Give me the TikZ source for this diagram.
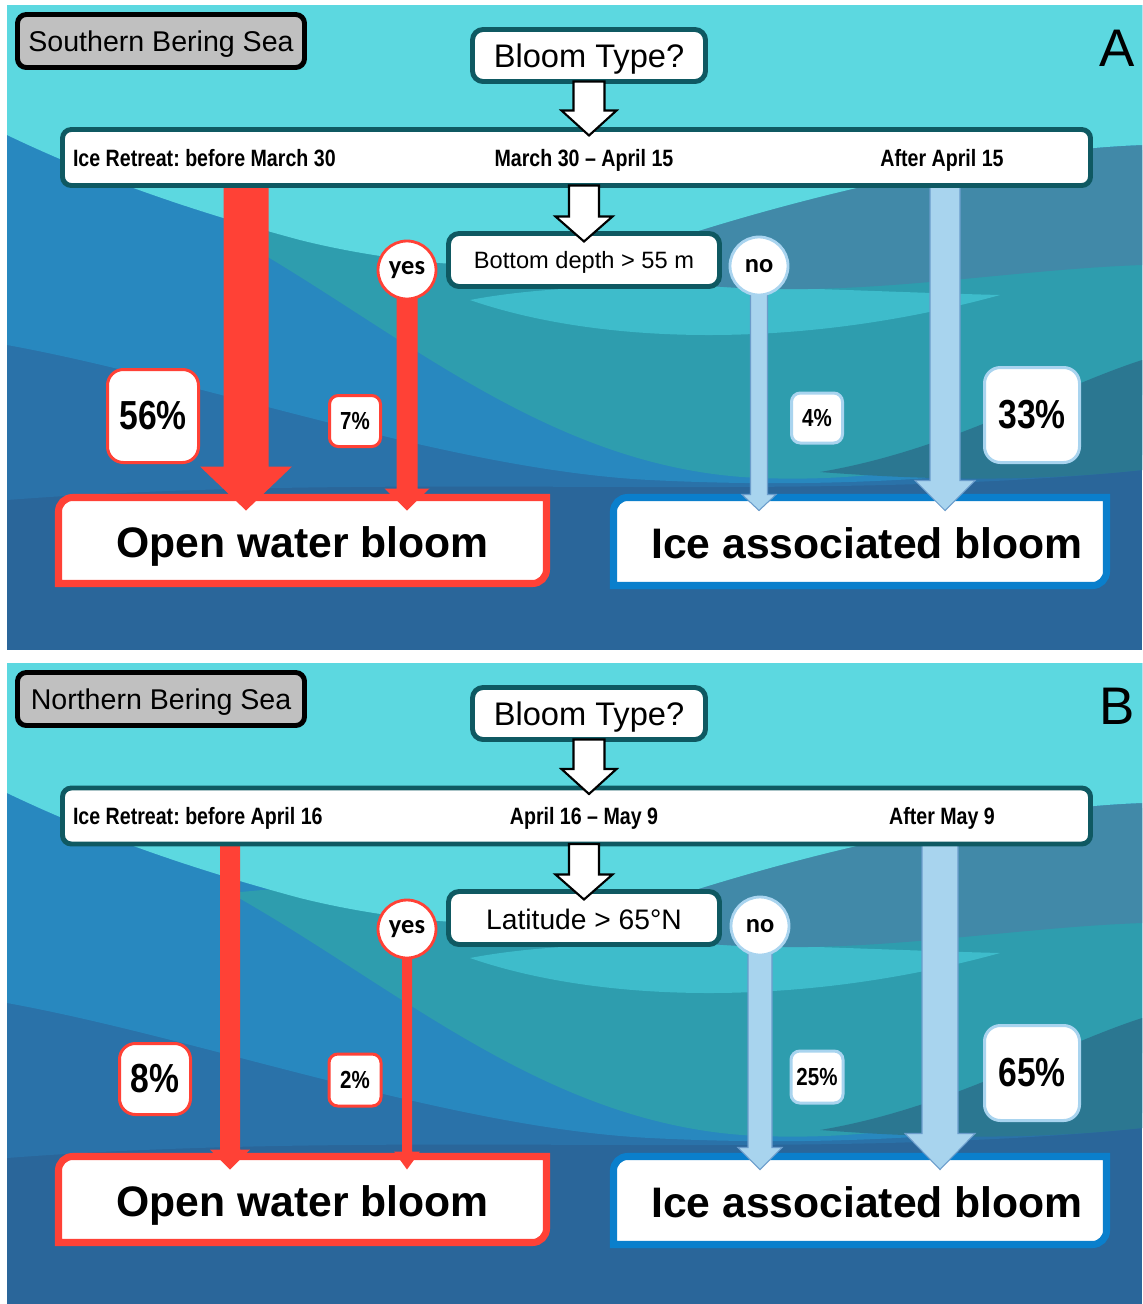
\documentclass[tikz,border=0pt]{standalone}
\usepackage{fontspec}
\setmainfont{Liberation Sans}
\newfontfamily\narrowfont[FakeStretch=0.83]{Liberation Sans}
\newfontfamily\calfont{Carlito}
\usetikzlibrary{calc}

\definecolor{seacyan}{HTML}{5CD8E0}
\definecolor{seasteel}{HTML}{4189A8}
\definecolor{sealight}{HTML}{3EBCCB}
\definecolor{seateal}{HTML}{2E9DAE}
\definecolor{seadeep}{HTML}{2B7791}
\definecolor{seablue}{HTML}{2888BF}
\definecolor{seamid}{HTML}{2A72A9}
\definecolor{seabase}{HTML}{2A669A}
\definecolor{seagrey}{HTML}{C0C0C0}
\definecolor{boxteal}{HTML}{0F5962}
\definecolor{owred}{HTML}{FF4136}
\definecolor{iceblue}{HTML}{0A7FCC}
\definecolor{icering}{HTML}{A9D4EF}
\definecolor{icefill}{HTML}{A8D4EE}
\definecolor{iceedge}{HTML}{6A9CCB}

\pgfdeclarelayer{waves}
\pgfdeclarelayer{frames}
\pgfdeclarelayer{stems}
\pgfsetlayers{waves,frames,stems,main}

\newcommand{\pxu}{0.567pt}

% vertical block arrow: style, from, to, shaft width, head width, head length (px)
\newcommand{\blockarrow}[6][]{%
  \path[#1] let \p1=#2, \p2=#3 in
    (\x1-#4*0.2835pt,\y1) -- (\x1-#4*0.2835pt,\y2+#6*0.567pt)
    -- (\x1-#5*0.2835pt,\y2+#6*0.567pt) -- (\x1,\y2)
    -- (\x1+#5*0.2835pt,\y2+#6*0.567pt) -- (\x1+#4*0.2835pt,\y2+#6*0.567pt)
    -- (\x1+#4*0.2835pt,\y1) -- cycle;}

% frame with round top left and bottom right corners
\newcommand{\snipframe}[2][]{%
  \draw[#1] let \p1=(#2.south west), \p2=(#2.north east) in
    (\x1,\y1) -- (\x1,\y2-8pt) arc[start angle=180, end angle=90, radius=8pt]
    -- (\x2,\y2) -- (\x2,\y1+8pt) arc[start angle=0, end angle=-90, radius=8pt] -- cycle;}

\newcommand{\seawaves}{%
  \begin{scope}
    \clip (7,5) rectangle (1142,650);
    \fill[seabase] (7,5) rectangle (1142,650);
    \fill[seamid] (7,5) -- (1142,5) -- (1142,470) .. controls (800,505) and (400,470) .. (7,500) -- cycle;
    \fill[seablue] (7,5) -- (1142,5) -- (1142,455) .. controls (1000,475) and (850,490) .. (650,480)
      .. controls (450,470) and (200,380) .. (7,345) -- cycle;
    \fill[seateal] (230,235) .. controls (400,330) and (550,470) .. (760,478)
      .. controls (950,485) and (1060,430) .. (1142,395) -- (1142,150) -- cycle;
    \fill[seadeep] (820,472) .. controls (950,450) and (1050,390) .. (1142,360) -- (1142,470)
      .. controls (1050,480) and (950,482) .. (820,472) -- cycle;
    \fill[sealight] (470,300) .. controls (600,345) and (800,350) .. (1000,295)
      .. controls (800,290) and (600,275) .. (470,300) -- cycle;
    \fill[seasteel] (640,250) .. controls (800,195) and (1000,150) .. (1142,145) -- (1142,265)
      .. controls (1000,270) and (850,300) .. (700,285) .. controls (670,280) and (650,265) .. (640,250) -- cycle;
    \fill[seacyan] (7,5) -- (1142,5) -- (1142,145) .. controls (1000,150) and (800,195) .. (640,250)
      .. controls (560,275) and (420,270) .. (300,240) .. controls (170,205) and (80,170) .. (7,135) -- cycle;
  \end{scope}}

\begin{document}
\frenchspacing
\begin{tikzpicture}[x=0.567pt, y=-0.567pt,
    every node/.style = {inner sep=0pt, outer sep=0pt},
    boxsize/.style 2 args = {minimum width=#1*\pxu, minimum height=#2*\pxu},
    seabox/.style = {draw=black, fill=seagrey, line width=2.8pt, rounded corners=5pt,
                     font=\fontsize{16.2}{19}\selectfont, text height=11.6pt, text depth=0pt},
    panellabel/.style = {font=\fontsize{30}{36}\selectfont},
    question/.style = {draw=boxteal, fill=white, line width=2.8pt, rounded corners=6pt, text depth=0pt},
    datebar/.style = {draw=boxteal, fill=white, line width=2.8pt, rounded corners=5pt},
    datetext/.style = {font=\narrowfont\bfseries\fontsize{13.4}{16}\selectfont, text height=9.6pt, text depth=0pt},
    answer/.style = {circle, fill=white, line width=1.6pt, minimum size=58*\pxu,
                     font=\calfont\bfseries\fontsize{15}{18}\selectfont},
    yesring/.style = {answer, draw=owred},
    noring/.style = {answer, draw=icering},
    share/.style = {fill=white, line width=1.7pt, rounded corners=5pt,
                    font=\narrowfont\bfseries\fontsize{14}{17}\selectfont},
    bigshare/.style = {share, rounded corners=9pt, font=\narrowfont\bfseries\fontsize{23}{28}\selectfont},
    bloomtext/.style = {font=\bfseries\fontsize{24.2}{29}\selectfont, text height=19.5pt, text depth=0pt},
    owframe/.style = {draw=owred, fill=white, line width=4pt},
    iceframe/.style = {draw=iceblue, fill=white, line width=4pt},
    redarrow/.style = {fill=owred},
    icearrow/.style = {fill=icefill, draw=iceedge, line width=0.6pt},
    hollowarrow/.style = {fill=white, draw=black, line width=1.2pt}]

  \begin{pgfonlayer}{waves}
    \fill[white] (0,0) rectangle (1142,1304);
  \end{pgfonlayer}
  \useasboundingbox (0,0) rectangle (1142,1304);

  % panel A
  \begin{pgfonlayer}{waves}
    \seawaves
  \end{pgfonlayer}
  \node[seabox, boxsize={287}{53}] (seaA) at (161,41) {Southern Bering Sea};
  \node[panellabel] (labA) at (1117,48) {A};
  \node[question, boxsize={233}{52}, font=\fontsize{18.5}{22}\selectfont, text height=13.5pt] (typeA) at (589,55.5) {Bloom Type?};
  \node[datebar, boxsize={1028}{56}] (barA) at (576.5,157.5) {};
  \node[datetext, anchor=west] (earlyA) at (73,158) {Ice Retreat: before March 30};
  \node[datetext] (midA) at (584,158) {March 30 – April 15};
  \node[datetext] (lateA) at (942,158) {After April 15};
  \node[question, boxsize={271}{53}, font=\fontsize{13.4}{16}\selectfont, text height=9.8pt] (depthA) at (584,260) {Bottom depth > 55 m};
  \node[yesring] (yesA) at (407,270) {yes};
  \node[noring] (noA) at (759,266) {no};
  \node[bigshare, draw=owred, boxsize={91}{93}] (p56) at (153,416) {56\%};
  \node[share, draw=owred, boxsize={51}{51}] (p7) at (355,421) {7\%};
  \node[share, draw=icering, boxsize={51}{50}] (p4) at (817,418) {4\%};
  \node[bigshare, draw=icering, boxsize={95}{95}] (p33) at (1032,415) {33\%};
  \node[bloomtext, boxsize={488}{86}] (openA) at (302.5,540.5) {Open water bloom};
  \node[bloomtext, boxsize={493}{88}] (iceA) at (860,541.5) {\hspace{8pt}Ice associated bloom};
  \begin{pgfonlayer}{frames}
    \snipframe[owframe]{openA}
    \snipframe[iceframe]{iceA}
  \end{pgfonlayer}
  \coordinate (redA) at (246,0);
  \coordinate (blueA) at (945,0);
  \blockarrow[hollowarrow]{(typeA.south)}{($(barA.north)+(0,6)$)}{31}{55}{25}
  \blockarrow[hollowarrow]{(barA.south -| depthA)}{($(depthA.north)+(0,8)$)}{30}{57}{25}
  \begin{pgfonlayer}{stems}
    \blockarrow[redarrow]{(barA.south -| redA)}{($(openA.north)+(0,13)$)}{45}{92}{44}
    \blockarrow[redarrow]{(yesA.center)}{($(openA.north)+(0,13)$)}{21}{45}{22}
    \blockarrow[icearrow]{(noA.center)}{($(iceA.north)+(0,13)$)}{17}{34}{16}
    \blockarrow[icearrow]{(barA.south -| blueA)}{($(iceA.north)+(0,13)$)}{30}{60}{30}
  \end{pgfonlayer}

  % panel B
  \begin{scope}[shift={(0,658)}]
    \begin{pgfonlayer}{waves}
      \seawaves
    \end{pgfonlayer}
    \node[seabox, boxsize={287}{53}] (seaB) at (161,41) {Northern Bering Sea};
    \node[panellabel] (labB) at (1117,48) {B};
    \node[question, boxsize={233}{52}, font=\fontsize{18.5}{22}\selectfont, text height=13.5pt] (typeB) at (589,55.5) {Bloom Type?};
    \node[datebar, boxsize={1028}{56}] (barB) at (576.5,158) {};
    \node[datetext, anchor=west] (earlyB) at (73,158) {Ice Retreat: before April 16};
    \node[datetext] (midB) at (584,158) {April 16 – May 9};
    \node[datetext] (lateB) at (942,158) {After May 9};
    \node[question, boxsize={271}{53}, font=\fontsize{16}{19}\selectfont, text height=13pt] (latB) at (584,260) {Latitude > 65°N};
    \node[yesring] (yesB) at (407,271) {yes};
    \node[noring] (noB) at (760,268) {no};
    \node[bigshare, draw=owred, boxsize={71}{71}] (p8) at (155,421) {8\%};
    \node[share, draw=owred, boxsize={52}{52}] (p2) at (355,422) {2\%};
    \node[share, draw=icering, boxsize={52}{52}] (p25) at (817,419) {25\%};
    \node[bigshare, draw=icering, boxsize={95}{95}] (p65) at (1032,415) {65\%};
    \node[bloomtext, boxsize={488}{86}] (openB) at (302.5,541.5) {Open water bloom};
    \node[bloomtext, boxsize={493}{88}] (iceB) at (860,542.5) {\hspace{8pt}Ice associated bloom};
    \begin{pgfonlayer}{frames}
      \snipframe[owframe]{openB}
      \snipframe[iceframe]{iceB}
    \end{pgfonlayer}
    \coordinate (redB) at (230,0);
    \coordinate (blueB) at (940,0);
    \blockarrow[hollowarrow]{(typeB.south)}{($(barB.north)+(0,6)$)}{31}{55}{25}
    \blockarrow[hollowarrow]{(barB.south -| latB)}{($(latB.north)+(0,8)$)}{30}{57}{25}
    \begin{pgfonlayer}{stems}
      \blockarrow[redarrow]{(barB.south -| redB)}{($(openB.north)+(0,13)$)}{20}{40}{20}
      \blockarrow[redarrow]{(yesB.center)}{($(openB.north)+(0,13)$)}{10}{26}{18}
      \blockarrow[icearrow]{(noB.center)}{($(iceB.north)+(0,13)$)}{24}{44}{22}
      \blockarrow[icearrow]{(barB.south -| blueB)}{($(iceB.north)+(0,13)$)}{36}{70}{36}
    \end{pgfonlayer}
  \end{scope}
\end{tikzpicture}
\end{document}
